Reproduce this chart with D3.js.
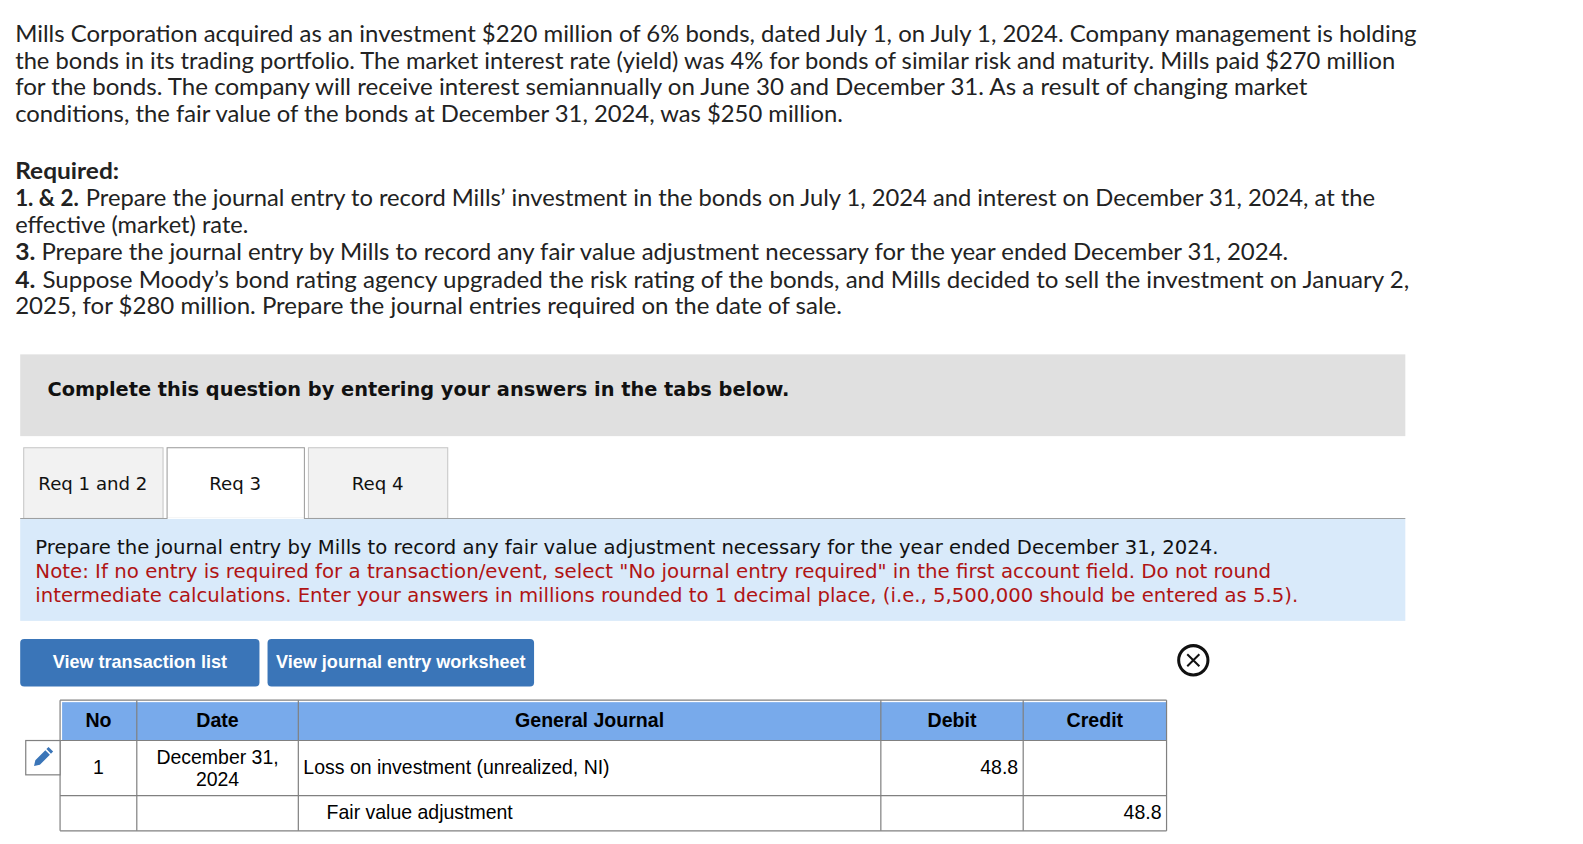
<!DOCTYPE html>
<html>
<head>
    <title>Mills Corporation journal entry</title>
    <script src="https://d3js.org/d3.v7.min.js"></script>
    <style>
        body { margin: 0; background: #fff; }
        svg { display: block; }
    </style>
</head>
<body>
<div id="page"></div>

<script>
// Text and values
const introLines = [
    "Mills Corporation acquired as an investment $220 million of 6% bonds, dated July 1, on July 1, 2024. Company management is holding",
    "the bonds in its trading portfolio. The market interest rate (yield) was 4% for bonds of similar risk and maturity. Mills paid $270 million",
    "for the bonds. The company will receive interest semiannually on June 30 and December 31. As a result of changing market",
    "conditions, the fair value of the bonds at December 31, 2024, was $250 million."
];
const requiredBold = ["Required:", "1. & 2.", "", "3.", "4.", ""];
const requiredPlain = [
    "",
    "Prepare the journal entry to record Mills\u2019 investment in the bonds on July 1, 2024 and interest on December 31, 2024, at the",
    "effective (market) rate.",
    "Prepare the journal entry by Mills to record any fair value adjustment necessary for the year ended December 31, 2024.",
    "Suppose Moody\u2019s bond rating agency upgraded the risk rating of the bonds, and Mills decided to sell the investment on January 2,",
    "2025, for $280 million. Prepare the journal entries required on the date of sale."
];
const bannerText = "Complete this question by entering your answers in the tabs below.";
const tabLabels = ["Req 1 and 2", "Req 3", "Req 4"];
const activeTab = "Req 3";
const promptLine = "Prepare the journal entry by Mills to record any fair value adjustment necessary for the year ended December 31, 2024.";
const noteLines = [
    "Note: If no entry is required for a transaction/event, select \"No journal entry required\" in the first account field. Do not round",
    "intermediate calculations. Enter your answers in millions rounded to 1 decimal place, (i.e., 5,500,000 should be entered as 5.5)."
];
const buttonLabels = ["View transaction list", "View journal entry worksheet"];
const columns = ["No", "Date", "General Journal", "Debit", "Credit"];
const rowNo = ["1", ""];
const rowDate = [["December 31,", "2024"], []];
const rowAccount = ["Loss on investment (unrealized, NI)", "Fair value adjustment"];
const rowDebit = ["48.8", ""];
const rowCredit = ["", "48.8"];

// Layout
const width = 1583, height = 844;
const bodyFont = "Lato, 'Open Sans', sans-serif";
const tabFont = "'DejaVu Sans', Verdana, sans-serif";
const tableFont = "'Liberation Sans', Arial, sans-serif";
const ink = "#222";
const grid = "#808080";

// layout numbers below were measured on a 1568 wide copy of the picture
const svg = d3.select("#page").append("svg")
    .attr("width", width)
    .attr("height", height)
    .attr("viewBox", "0 0 1568 836");

// draw a line of text and stretch it so it ends where the original does
function fitText(sel, x, y, right) {
    return sel.attr("x", x).attr("y", y)
        .attr("textLength", right - x)
        .attr("lengthAdjust", "spacingAndGlyphs");
}

// Question text
const introBase = [41.4, 67.9, 94.5, 121];
const introRight = [1403, 1382, 1295, 835];
introLines.forEach((line, i) => {
    svg.append("text")
        .attr("font-family", bodyFont).attr("font-size", 22).attr("fill", ink)
        .text(line)
        .call(fitText, 15, introBase[i], introRight[i]);
});

const reqBase = [177.5, 204.5, 231, 258, 285, 311.5];
const boldRight = [118, 78, 0, 35, 35, 0];
const plainLeft = [0, 85, 15, 41, 42, 15];
const plainRight = [0, 1362, 246, 1276, 1396, 834];
requiredBold.forEach((label, i) => {
    if (label) {
        svg.append("text")
            .attr("font-family", bodyFont).attr("font-size", 22).attr("font-weight", 700).attr("fill", ink)
            .text(label)
            .call(fitText, 15, reqBase[i], boldRight[i]);
    }
    if (requiredPlain[i]) {
        svg.append("text")
            .attr("font-family", bodyFont).attr("font-size", 22).attr("fill", ink)
            .text(requiredPlain[i])
            .call(fitText, plainLeft[i], reqBase[i], plainRight[i]);
    }
});

// Grey banner
svg.append("rect")
    .attr("x", 20).attr("y", 351).attr("width", 1372).attr("height", 81)
    .attr("fill", "#e0e0e0");
svg.append("text")
    .attr("font-family", tabFont).attr("font-weight", 700).attr("font-size", 20).attr("fill", "#111")
    .text(bannerText)
    .call(fitText, 47, 392, 782);

// Tabs
const tabX = d3.scaleOrdinal().domain(tabLabels).range([23, 165, 305]);
const tabW = d3.scaleOrdinal().domain(tabLabels).range([138, 136, 138]);
svg.selectAll(".tab")
    .data(tabLabels)
    .join("rect")
    .attr("class", "tab")
    .attr("x", d => tabX(d) + 0.5)
    .attr("y", 443.5)
    .attr("width", d => tabW(d))
    .attr("height", 70)
    .attr("fill", d => d === activeTab ? "#fff" : "#f2f2f2")
    .attr("stroke", d => d === activeTab ? "#999" : "#c4c4c4");
svg.append("line")
    .attr("x1", 20).attr("x2", 1392).attr("y1", 513.5).attr("y2", 513.5)
    .attr("stroke", "#999");
svg.append("line")
    .attr("x1", tabX(activeTab) + 1).attr("x2", tabX(activeTab) + tabW(activeTab))
    .attr("y1", 513.5).attr("y2", 513.5)
    .attr("stroke", "#fff");
svg.selectAll(".tab-label")
    .data(tabLabels)
    .join("text")
    .attr("class", "tab-label")
    .attr("x", d => tabX(d) + tabW(d) / 2)
    .attr("y", 485)
    .attr("text-anchor", "middle")
    .attr("font-family", tabFont).attr("font-size", 18).attr("fill", "#111")
    .text(d => d);

// Prompt panel
svg.append("rect")
    .attr("x", 20).attr("y", 514).attr("width", 1372).attr("height", 101)
    .attr("fill", "#d9eafa");
svg.append("text")
    .attr("font-family", tabFont).attr("font-size", 20).attr("fill", "#111")
    .text(promptLine)
    .call(fitText, 35, 548.6, 1207);
const noteBase = [572.6, 596];
const noteRight = [1259, 1286];
noteLines.forEach((line, i) => {
    svg.append("text")
        .attr("font-family", tabFont).attr("font-size", 20).attr("fill", "#b01414")
        .text(line)
        .call(fitText, 35, noteBase[i], noteRight[i]);
});

// Buttons
const btnX = d3.scaleOrdinal().domain(buttonLabels).range([20, 265]);
const btnW = d3.scaleOrdinal().domain(buttonLabels).range([237, 264]);
svg.selectAll(".btn")
    .data(buttonLabels)
    .join("rect")
    .attr("class", "btn")
    .attr("x", d => btnX(d))
    .attr("y", 633)
    .attr("width", d => btnW(d))
    .attr("height", 47)
    .attr("rx", 4)
    .attr("fill", "#3a75b8");
svg.selectAll(".btn-label")
    .data(buttonLabels)
    .join("text")
    .attr("class", "btn-label")
    .attr("x", d => btnX(d) + btnW(d) / 2)
    .attr("y", 662)
    .attr("text-anchor", "middle")
    .attr("font-family", tableFont).attr("font-weight", 700).attr("font-size", 17.9).attr("fill", "#fff")
    .text(d => d);

// Close icon
const closeIcon = svg.append("g").attr("transform", "translate(1182,654)");
closeIcon.append("circle").attr("r", 14.5).attr("fill", "#fff").attr("stroke", "#111").attr("stroke-width", 3);
closeIcon.append("path").attr("d", "M-6,-6L6,6M6,-6L-6,6").attr("stroke", "#111").attr("stroke-width", 2);

// Journal table
const colEdge = d3.scaleOrdinal().domain(columns).range([59.5, 135.5, 295.5, 872.5, 1013.5]);
const tableRight = 1155.5;
const colRight = c => {
    const i = columns.indexOf(c);
    return i === columns.length - 1 ? tableRight : colEdge(columns[i + 1]);
};
const colMid = c => (colEdge(c) + colRight(c)) / 2;

const rowTop = d3.scaleOrdinal().domain(rowAccount).range([733.5, 788]);
const rowBottom = d3.scaleOrdinal().domain(rowAccount).range([788, 823]);
const rowBase = [766.5, 811.5];
const headTop = 693.5;

svg.append("rect")
    .attr("x", colEdge("No") + 2).attr("y", headTop + 2)
    .attr("width", tableRight - colEdge("No") - 2).attr("height", rowTop(rowAccount[0]) - headTop - 2)
    .attr("fill", "#78aaeb");

const gridLines = svg.append("g").attr("stroke", grid).attr("stroke-width", 1.2);
gridLines.selectAll(".col-line")
    .data([...columns.map(c => colEdge(c)), tableRight])
    .join("line")
    .attr("class", "col-line")
    .attr("x1", d => d).attr("x2", d => d)
    .attr("y1", headTop).attr("y2", rowBottom(rowAccount[1]));
gridLines.selectAll(".row-line")
    .data([headTop, ...rowAccount.map(a => rowTop(a)), rowBottom(rowAccount[1])])
    .join("line")
    .attr("class", "row-line")
    .attr("x1", colEdge("No")).attr("x2", tableRight)
    .attr("y1", d => d).attr("y2", d => d);

svg.selectAll(".col-head")
    .data(columns)
    .join("text")
    .attr("class", "col-head")
    .attr("x", d => colMid(d))
    .attr("y", 720)
    .attr("text-anchor", "middle")
    .attr("font-family", tableFont).attr("font-weight", 700).attr("font-size", 19.4).attr("fill", "#000")
    .text(d => d);

const cell = svg.append("g")
    .attr("font-family", tableFont).attr("font-size", 19.3).attr("fill", "#000");
rowAccount.forEach((acct, i) => {
    const y = rowBase[i];
    if (rowNo[i]) cell.append("text").attr("x", colMid("No")).attr("y", y).attr("text-anchor", "middle").text(rowNo[i]);
    rowDate[i].forEach((line, j) => {
        cell.append("text").attr("x", colMid("Date")).attr("y", 757 + j * 22).attr("text-anchor", "middle").text(line);
    });
    cell.append("text").attr("x", colEdge("General Journal") + (i ? 28 : 5)).attr("y", y).text(acct);
    if (rowDebit[i]) cell.append("text").attr("x", colRight("Debit") - 5).attr("y", y).attr("text-anchor", "end").text(rowDebit[i]);
    if (rowCredit[i]) cell.append("text").attr("x", colRight("Credit") - 5).attr("y", y).attr("text-anchor", "end").text(rowCredit[i]);
});

// Edit pencil box
svg.append("rect")
    .attr("x", 25.5).attr("y", 733.5).attr("width", 34).attr("height", 34)
    .attr("fill", "#fff").attr("stroke", grid).attr("stroke-width", 1.2);
svg.append("path")
    .attr("transform", "translate(41.5,751) rotate(45)")
    .attr("d", "M-3.2,-8H3.2V6L0,11L-3.2,6Z M-3.2,-12.5H3.2V-9.5H-3.2Z")
    .attr("fill", "#3a75b8");
</script>
</body>
</html>
